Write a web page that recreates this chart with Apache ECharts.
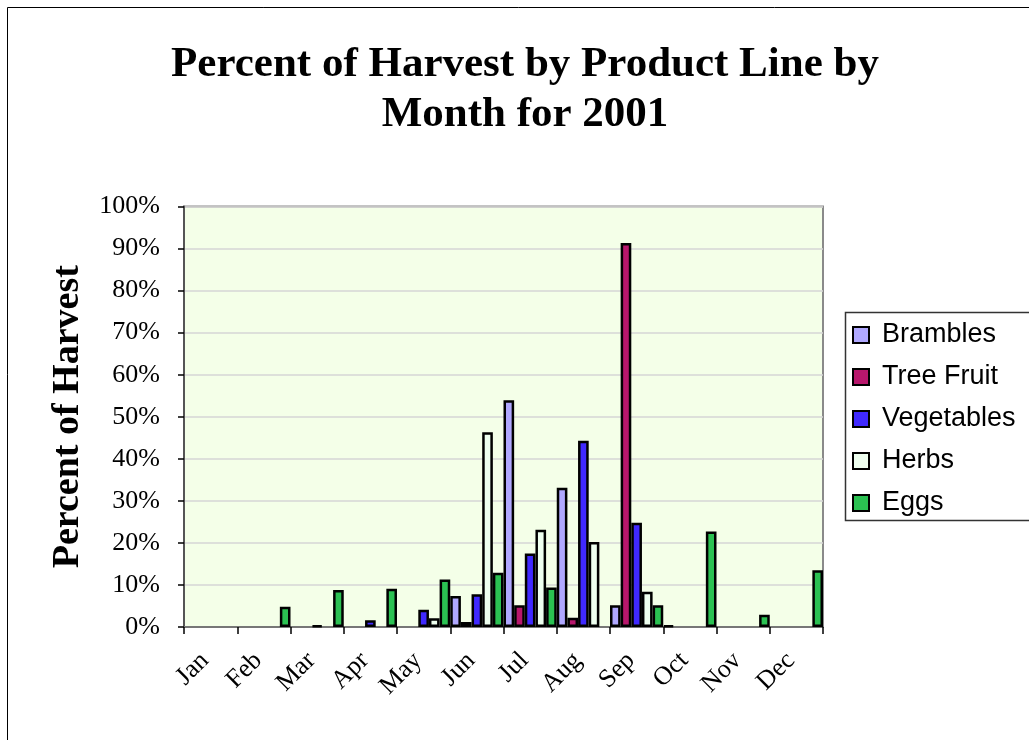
<!DOCTYPE html>
<html>
<head>
<meta charset="utf-8">
<script src="https://cdn.jsdelivr.net/npm/echarts@6/dist/echarts.min.js"></script>
<style>
  html, body { margin: 0; padding: 0; background: #ffffff; }
  #chart { width: 1029px; height: 740px; }
</style>
</head>
<body>
<div id="chart"></div>
<script>
// Months on the category axis
const months = ['Jan', 'Feb', 'Mar', 'Apr', 'May', 'Jun', 'Jul', 'Aug', 'Sep', 'Oct', 'Nov', 'Dec'];

// Percent of each product line's yearly harvest taken in each month
const brambles   = [0, 0, 0,   0,   0,    7.4, 53.9, 33.1, 5.2,  0.3, 0,   0];
const treeFruit  = [0, 0, 0,   0,   0,    1.2, 5.2,  2.2,  91.3, 0,   0,   0];
const vegetables = [0, 0, 0.3, 1.6, 4.1,  7.8, 17.5, 44.3, 24.8, 0,   0,   0];
const herbs      = [0, 0, 0,   0,   2.1,  46.3, 23.1, 20.2, 8.4, 0,   0,   0];
const eggs       = [0, 4.8, 8.8, 9.1, 11.3, 12.9, 9.4, 0,   5.2,  22.7, 2.9, 13.5];

// Value-axis ticks
const yTicks = [0, 10, 20, 30, 40, 50, 60, 70, 80, 90, 100];

const seriesDefs = [
  { name: 'Brambles',   data: brambles,   color: '#B0A8FF' },
  { name: 'Tree Fruit', data: treeFruit,  color: '#B8176C' },
  { name: 'Vegetables', data: vegetables, color: '#4029FF' },
  { name: 'Herbs',      data: herbs,      color: '#EEFFEF' },
  { name: 'Eggs',       data: eggs,       color: '#2BC152' }
];

const serif = '"Liberation Serif", "Times New Roman", serif';
const sans = '"Liberation Sans", Arial, sans-serif';

const chart = echarts.init(document.getElementById('chart'), null, { renderer: 'canvas' });

chart.setOption({
  animation: false,
  backgroundColor: '#ffffff',
  title: {
    text: 'Percent of Harvest by Product Line by\nMonth for 2001',
    left: 525,
    top: 40,
    padding: 0,
    textAlign: 'center',
    textStyle: {
      fontFamily: serif,
      fontWeight: 'bold',
      fontSize: 43,
      lineHeight: 50,
      color: '#000'
    }
  },
  legend: {
    orient: 'vertical',
    left: 852,
    top: 321,
    padding: 0,
    itemWidth: 16,
    itemHeight: 16,
    itemGap: 14,
    icon: 'rect',
    itemStyle: { borderColor: '#000', borderWidth: 2 },
    textStyle: {
      fontFamily: sans,
      fontSize: 27,
      lineHeight: 28,
      color: '#000',
      padding: [0, 0, 0, 8]
    },
    data: seriesDefs.map(s => s.name)
  },
  grid: {
    left: 184,
    right: 206,
    top: 206.5,
    bottom: 113,
    show: true,
    backgroundColor: '#F4FFE8',
    borderColor: '#8A8A8A',
    borderWidth: 2,
    containLabel: false
  },
  xAxis: {
    type: 'category',
    data: months,
    boundaryGap: true,
    axisLine: { show: true, lineStyle: { color: '#777', width: 2 } },
    axisTick: { show: true, alignWithLabel: false, length: 7, lineStyle: { color: '#000', width: 1.5 } },
    axisLabel: {
      rotate: 45,
      margin: 24,
      interval: 0,
      padding: [0, 8, 0, 0],
      fontFamily: serif,
      fontSize: 26,
      color: '#000'
    },
    splitLine: { show: false }
  },
  yAxis: {
    type: 'value',
    min: yTicks[0],
    max: yTicks[yTicks.length - 1],
    interval: yTicks[1] - yTicks[0],
    name: 'Percent of Harvest',
    nameLocation: 'middle',
    nameRotate: 90,
    nameGap: 97,
    nameMoveOverlap: false,
    nameTextStyle: {
      fontFamily: serif,
      fontWeight: 'bold',
      fontSize: 38,
      color: '#000'
    },
    axisLine: { show: true, lineStyle: { color: '#555', width: 2 } },
    axisTick: { show: true, inside: false, length: 6, lineStyle: { color: '#000', width: 1.5 } },
    axisLabel: {
      margin: 24,
      fontFamily: serif,
      fontSize: 26,
      color: '#000',
      formatter: '{value}%'
    },
    splitLine: { show: true, lineStyle: { color: '#D6D6D6', width: 1.5 } }
  },
  graphic: [
    // outer chart frame
    {
      type: 'rect',
      shape: { x: 7.5, y: 7.5, width: 1100, height: 1000 },
      style: { fill: 'none', stroke: '#000', lineWidth: 1 },
      silent: true,
      z: 0
    },
    // legend frame
    {
      type: 'rect',
      shape: { x: 845.5, y: 312.5, width: 300, height: 208 },
      style: { fill: 'none', stroke: '#333', lineWidth: 1.5 },
      silent: true,
      z: 0
    }
  ],
  series: seriesDefs.map(s => ({
    name: s.name,
    type: 'bar',
    barGap: '0%',
    barCategoryGap: '0%',
    data: s.data.map(v => (v === 0 ? '-' : v)),
    itemStyle: { color: s.color, borderColor: '#000', borderWidth: 2.5 }
  }))
});
</script>
</body>
</html>
